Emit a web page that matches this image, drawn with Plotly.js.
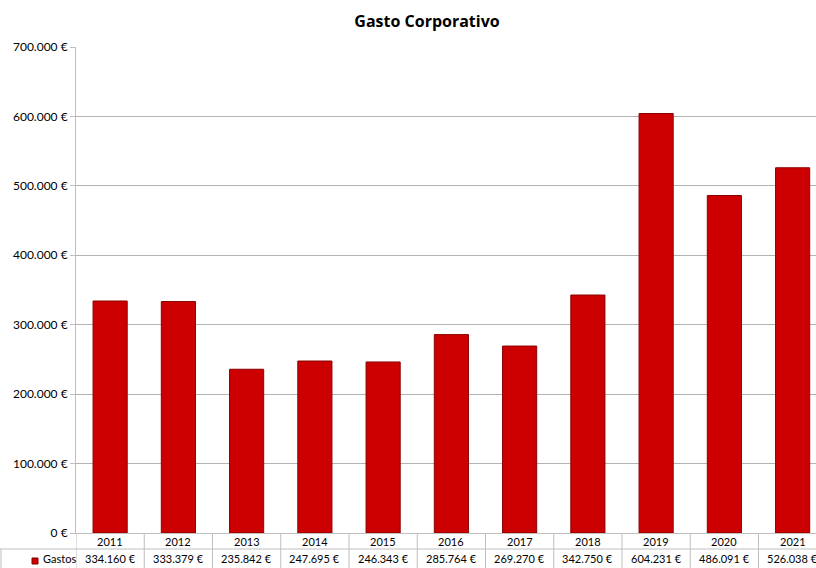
<!DOCTYPE html>
<html>
<head>
<meta charset="utf-8">
<script src="https://cdn.plot.ly/plotly-3.0.1.min.js"></script>
<style>html,body{margin:0;padding:0;background:#fff;}#chart{width:816px;height:568px;}</style>
</head>
<body>
<div id="chart"></div>
<script>
const years = ["2011","2012","2013","2014","2015","2016","2017","2018","2019","2020","2021"];
const gastos = [334160, 333379, 235842, 247695, 246343, 285764, 269270, 342750, 604231, 486091, 526038];
const seriesName = "Gastos";
const yTicks = [0, 100000, 200000, 300000, 400000, 500000, 600000, 700000];

function fmtEuro(v) {
  const s = Math.round(v).toString().replace(/\B(?=(\d{3})+(?!\d))/g, ".");
  return s + " €";
}

const W = 816, ML = 76, MR = 0;
const plotW = W - ML - MR;
const leftPaper = -ML / plotW;
const gridCol = "#BFBFBF";
const barColor = "#CC0000";
const fontFam = "Lato, 'Open Sans', sans-serif";

const shapes = [];
const annotations = [];

// table vertical lines at category boundaries
for (let i = 0; i <= years.length; i++) {
  shapes.push({type: "line", xref: "x", yref: "paper", ysizemode: "pixel", yanchor: 0,
    x0: i - 0.5, x1: i - 0.5, y0: 0, y1: -40, line: {color: gridCol, width: 1}});
}
// horizontal line between rows
shapes.push({type: "line", xref: "paper", yref: "paper", ysizemode: "pixel", yanchor: 0,
  x0: leftPaper, x1: 1, y0: -16, y1: -16, line: {color: gridCol, width: 1}});
// left border of value row
shapes.push({type: "line", xref: "paper", yref: "paper", ysizemode: "pixel", yanchor: 0,
  x0: leftPaper + 1 / plotW, x1: leftPaper + 1 / plotW, y0: -16, y1: -40, line: {color: gridCol, width: 1}});
// legend key square
shapes.push({type: "rect", xref: "paper", yref: "paper", ysizemode: "pixel", yanchor: 0,
  x0: leftPaper + 32 / plotW, x1: leftPaper + 38 / plotW, y0: -25, y1: -31,
  fillcolor: barColor, line: {color: "#800000", width: 1}});

years.forEach((yr, i) => {
  annotations.push({x: i, y: 0, xref: "x", yref: "paper", yshift: -8, yanchor: "middle",
    text: yr, showarrow: false, font: {family: fontFam, size: 11, color: "#000"}});
  annotations.push({x: i, y: 0, xref: "x", yref: "paper", yshift: -25, yanchor: "middle",
    text: fmtEuro(gastos[i]), showarrow: false, font: {family: fontFam, size: 11, color: "#000"}});
});
annotations.push({x: leftPaper + 41 / plotW, y: 0, xref: "paper", yref: "paper", yshift: -25,
  xanchor: "left", yanchor: "middle", text: seriesName, showarrow: false,
  font: {family: fontFam, size: 11, color: "#000"}});

const data = [{
  type: "bar", x: years, y: gastos, name: seriesName, width: 0.5,
  marker: {color: barColor, line: {color: "#8A0000", width: 1}},
  hoverinfo: "x+y"
}];

const layout = {
  width: 816, height: 568,
  margin: {l: ML, r: MR, t: 47, b: 35},
  paper_bgcolor: "#fff", plot_bgcolor: "#fff",
  showlegend: false,
  title: {text: "<b>Gasto Corporativo</b>", x: 427 / 816, xref: "container", xanchor: "center", y: 1 - 21 / 568, yanchor: "middle",
    font: {family: "'Open Sans', sans-serif", size: 16, color: "#000"}},
  xaxis: {type: "category", range: [-0.5, -0.5 + plotW / 68.25], showticklabels: false,
    showgrid: false, showline: true, linecolor: gridCol, linewidth: 1, ticks: "", zeroline: false, fixedrange: true},
  yaxis: {range: [0, 700000], tickvals: yTicks, ticktext: yTicks.map(fmtEuro),
    showgrid: true, gridcolor: "#B3B3B3", gridwidth: 1, showline: true, linecolor: gridCol, linewidth: 1,
    ticks: "outside", ticklen: 5, tickcolor: gridCol, zeroline: false,
    tickfont: {family: fontFam, size: 12, color: "#000"}, fixedrange: true},
  shapes: shapes,
  annotations: annotations
};

Plotly.newPlot("chart", data, layout, {displayModeBar: false, staticPlot: true});
</script>
</body>
</html>
